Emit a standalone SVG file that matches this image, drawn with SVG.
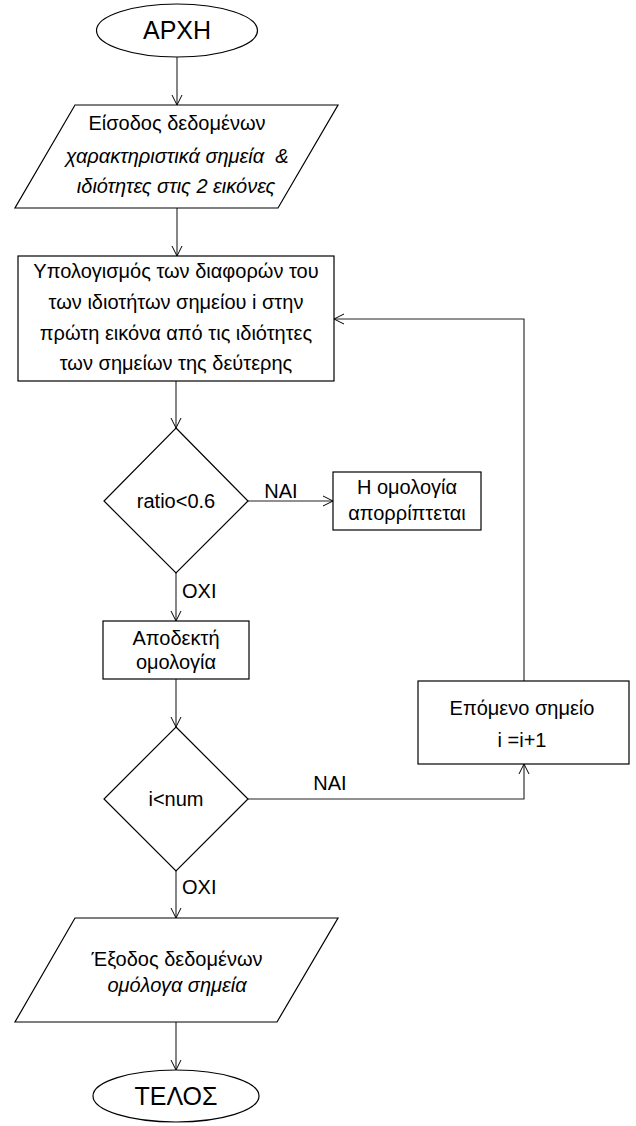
<svg xmlns="http://www.w3.org/2000/svg" width="636" height="1126" viewBox="0 0 636 1126">
<defs>
<marker id="arr" viewBox="0 0 12 12" refX="11" refY="6" markerWidth="12" markerHeight="12" markerUnits="userSpaceOnUse" orient="auto">
<path d="M1,1 L11,6 L1,11" fill="none" stroke="#000" stroke-width="1"/>
</marker>
<style>
.s{fill:#fff;stroke:#000;stroke-width:1.2}
.c{fill:none;stroke:#222;stroke-width:1.1}
text{font-family:"Liberation Sans",Arial,sans-serif;font-size:20px;fill:#000;text-anchor:middle}
.big{font-size:25px}
.it{font-style:italic}
.l{text-anchor:start}
</style>
</defs>
<rect width="636" height="1126" fill="#fff"/>
<g id="connectors">
<path class="c" d="M177,57 V105" marker-end="url(#arr)"/>
<path class="c" d="M177,208 V256" marker-end="url(#arr)"/>
<path class="c" d="M176,381 V428" marker-end="url(#arr)"/>
<path class="c" d="M248,501 H333" marker-end="url(#arr)"/>
<path class="c" d="M176,573 V621" marker-end="url(#arr)"/>
<path class="c" d="M176,679 V727" marker-end="url(#arr)"/>
<path class="c" d="M248,799 H524 V764" marker-end="url(#arr)"/>
<path class="c" d="M524,681 V319 H334" marker-end="url(#arr)"/>
<path class="c" d="M176,871 V918" marker-end="url(#arr)"/>
<path class="c" d="M176,1022 V1070" marker-end="url(#arr)"/>
<text x="281" y="498">ΝΑΙ</text>
<text x="182" y="598" class="l">ΟΧΙ</text>
<text x="330" y="790">ΝΑΙ</text>
<text x="182" y="894" class="l">ΟΧΙ</text>
</g>
<g id="start">
<ellipse class="s" cx="177" cy="30.5" rx="80.5" ry="26.5"/>
<text x="177" y="39" class="big">ΑΡΧΗ</text>
</g>
<g id="input">
<path class="s" d="M75,105 H338 L278,208 H15 Z"/>
<text x="177" y="130">Είσοδος δεδομένων</text>
<text x="177" y="163" class="it">χαρακτηριστικά σημεία &#160;&amp;</text>
<text x="176" y="193" class="it">ιδιότητες στις 2 εικόνες</text>
</g>
<g id="compute">
<rect class="s" x="18" y="256" width="316" height="125"/>
<text x="176" y="278">Υπολογισμός των διαφορών του</text>
<text x="176" y="309">των ιδιοτήτων σημείου i στην</text>
<text x="176" y="340">πρώτη εικόνα από τις ιδιότητες</text>
<text x="176" y="370">των σημείων της δεύτερης</text>
</g>
<g id="ratio">
<path class="s" d="M176,428 L248,501 L176,573 L104,501 Z"/>
<text x="176" y="508">ratio&lt;0.6</text>
</g>
<g id="reject">
<rect class="s" x="333" y="472" width="148" height="58"/>
<text x="407" y="494">Η ομολογία</text>
<text x="407" y="520">απορρίπτεται</text>
</g>
<g id="accept">
<rect class="s" x="103" y="621" width="146" height="58"/>
<text x="176" y="645">Αποδεκτή</text>
<text x="176" y="669">ομολογία</text>
</g>
<g id="loopcheck">
<path class="s" d="M176,727 L248,799 L176,871 L104,799 Z"/>
<text x="176" y="806">i&lt;num</text>
</g>
<g id="next">
<rect class="s" x="418" y="681" width="211" height="83"/>
<text x="522" y="715">Επόμενο σημείο</text>
<text x="522" y="747">i =i+1</text>
</g>
<g id="output">
<path class="s" d="M75,918 H338 L277,1022 H15 Z"/>
<text x="177" y="966">Έξοδος δεδομένων</text>
<text x="177" y="992" class="it">ομόλογα σημεία</text>
</g>
<g id="end">
<ellipse class="s" cx="176" cy="1096" rx="83" ry="26"/>
<text x="176" y="1105" class="big">ΤΕΛΟΣ</text>
</g>
</svg>
